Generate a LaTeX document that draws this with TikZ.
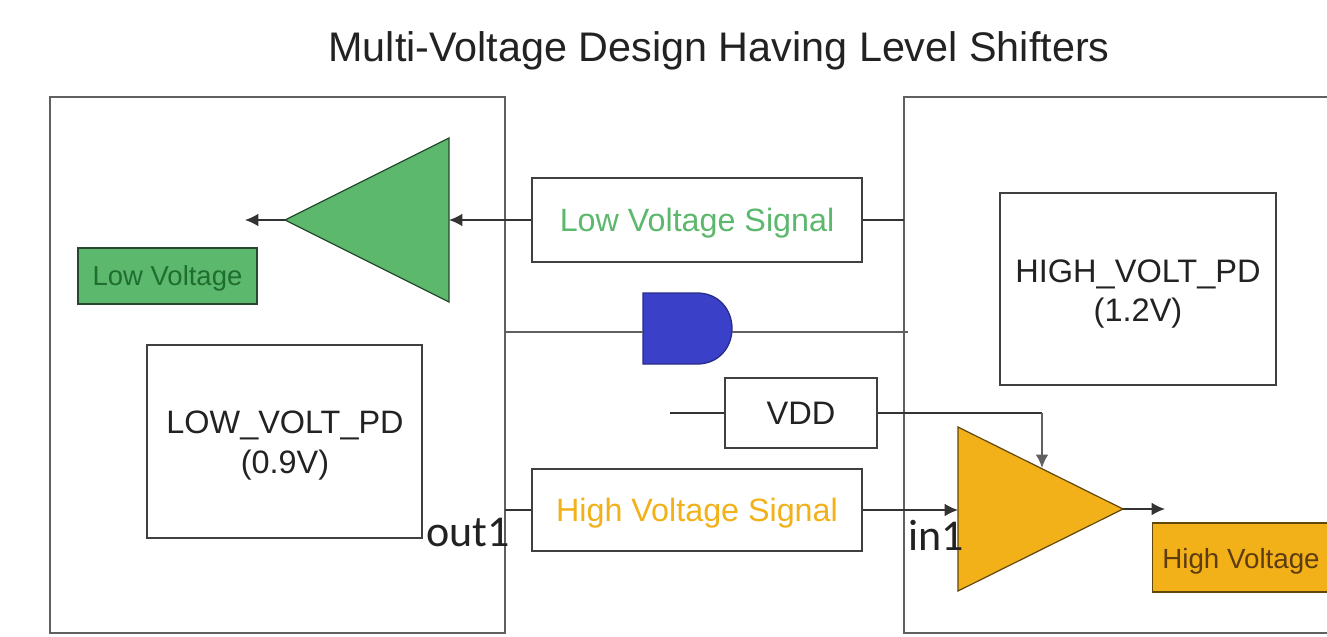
\documentclass[tikz,border=0pt]{standalone}
\usepackage{fontspec}
\setmainfont{Liberation Sans}
\newfontfamily\carl{Carlito}
\usetikzlibrary{arrows.meta}
\definecolor{lowgreen}{HTML}{5CB86C}
\definecolor{lowtext}{HTML}{1F6E30}
\definecolor{highyel}{HTML}{F2B118}
\definecolor{hightext}{HTML}{5E3C12}
\definecolor{gateblue}{HTML}{3A40C8}
\definecolor{framegray}{HTML}{606060}
\definecolor{inktext}{HTML}{222222}
\tikzset{
  x=0.75pt,y=-0.75pt,
  pdframe/.style={draw=framegray,line width=1.5pt,fill=none},
  plain/.style={draw=black!75,line width=1.1pt,fill=white,inner sep=0pt,align=center,text=inktext},
  wire/.style={draw=black!80,line width=1.1pt},
  graywire/.style={draw=framegray,line width=1.5pt},
  arrowed/.style={-{Latex[length=10pt,width=9.5pt]}},
  lowfill/.style={draw=black!60!lowgreen,line width=0.9pt,fill=lowgreen},
  highfill/.style={draw=black!60!highyel,line width=0.9pt,fill=highyel},
  labeltxt/.style={inner sep=0pt,text=inktext},
  portlabel/.style={inner sep=0pt,text=inktext,font=\carl\fontsize{33pt}{35pt}\selectfont}
}
\begin{document}
\begin{tikzpicture}
\useasboundingbox (0,0) rectangle (1327,636);
\clip (0,0) rectangle (1327,636);
\fill[white] (0,0) rectangle (1327,636);

\node[labeltxt,font=\fontsize{31pt}{33pt}\selectfont] (title) at (719,51) {Multi-Voltage Design Having Level Shifters};

% domains
\coordinate (leftTL) at (50,97);
\coordinate (leftBR) at (505,633);
\coordinate (rightTL) at (904,97);
\coordinate (rightBR) at (1350,633);
\draw[pdframe] (leftTL) rectangle (leftBR);
\draw[pdframe] (rightTL) rectangle (rightBR);

% boxes
\node[plain,minimum width=247.5pt,minimum height=63pt,font=\fontsize{24.2pt}{26pt}\selectfont,text=lowgreen,text depth=0pt] (lowsig) at (697,220) {Low Voltage Signal};
\node[plain,minimum width=247.5pt,minimum height=61.5pt,font=\fontsize{24.2pt}{26pt}\selectfont,text=highyel,text depth=0pt] (highsig) at (697,510) {High Voltage Signal};
\node[plain,minimum width=114pt,minimum height=52.5pt,font=\fontsize{24.4pt}{26pt}\selectfont] (vdd) at (801,413) {VDD};
\node[plain,minimum width=206.25pt,minimum height=144.75pt] (lowpd) at (284.5,441.5) {};
\node[labeltxt,align=center,font=\fontsize{24.3pt}{30pt}\selectfont] (lowpdt) at (285,446) {LOW\_VOLT\_PD\\(0.9V)};
\node[plain,minimum width=207pt,minimum height=144pt] (highpd) at (1138,289) {};
\node[labeltxt,align=center,font=\fontsize{24.4pt}{29pt}\selectfont] (highpdt) at (1138,294) {HIGH\_VOLT\_PD\\(1.2V)};
\node[lowfill,minimum width=134.25pt,minimum height=42pt,inner sep=0pt,text=lowtext,text depth=0pt,font=\fontsize{20.6pt}{22pt}\selectfont] (lowv) at (167.5,276) {Low Voltage};
\node[highfill,minimum width=150pt,minimum height=51.75pt,inner sep=0pt,anchor=west] (highv) at (1152,557.5) {};
\node[labeltxt,text=hightext,text depth=0pt,font=\fontsize{20.8pt}{22pt}\selectfont] (highvt) at (1241,558) {High Voltage};

% shapes
\coordinate (gi) at (449,220);
\coordinate (go) at (285,220);
\draw[lowfill] (449,138) -- (449,302) -- (go) -- cycle;
\coordinate (yi) at (958,510);
\coordinate (yo) at (1123,509);
\coordinate (yt) at (1042,468);
\draw[highfill] (958,427) -- (958,591) -- (yo) -- cycle;
\coordinate (ai) at (643,332);
\coordinate (ao) at (732,332);
\draw[draw=gateblue!70!black,line width=1pt,fill=gateblue] (643,293) -- (697,293) .. controls (719,293) and (732,310) .. (732,328.5) .. controls (732,347) and (719,364) .. (697,364) -- (643,364) -- cycle;

% wire ends
\coordinate (rw1) at (904,220);
\coordinate (lw2) at (505,332);
\coordinate (rw2) at (908,332);
\coordinate (vddl) at (670,413);
\coordinate (vddc) at (1042,413);
\coordinate (lw3) at (505,510);
\coordinate (lowend) at (245,220);
\coordinate (highend) at (1165,509);

% connectors
\draw[wire] (rw1) -- (lowsig.east);
\draw[wire,arrowed] (lowsig.west) -- (gi);
\draw[wire,arrowed] (go) -- (lowend);
\draw[graywire] (lw2) -- (ai);
\draw[graywire] (ao) -- (rw2);
\draw[wire] (vddl) -- (vdd.west);
\draw[wire] (vdd.east) -- (vddc);
\draw[graywire,arrowed] (vddc) -- (yt);
\draw[wire] (lw3) -- (highsig.west);
\draw[wire,arrowed] (highsig.east) -- (yi);
\draw[wire,arrowed] (yo) -- (highend);

% port labels
\node[portlabel,anchor=base west] (out) at (426,546) {out1};
\node[portlabel,anchor=base west] (in) at (908,550) {in1};
\end{tikzpicture}
\end{document}
